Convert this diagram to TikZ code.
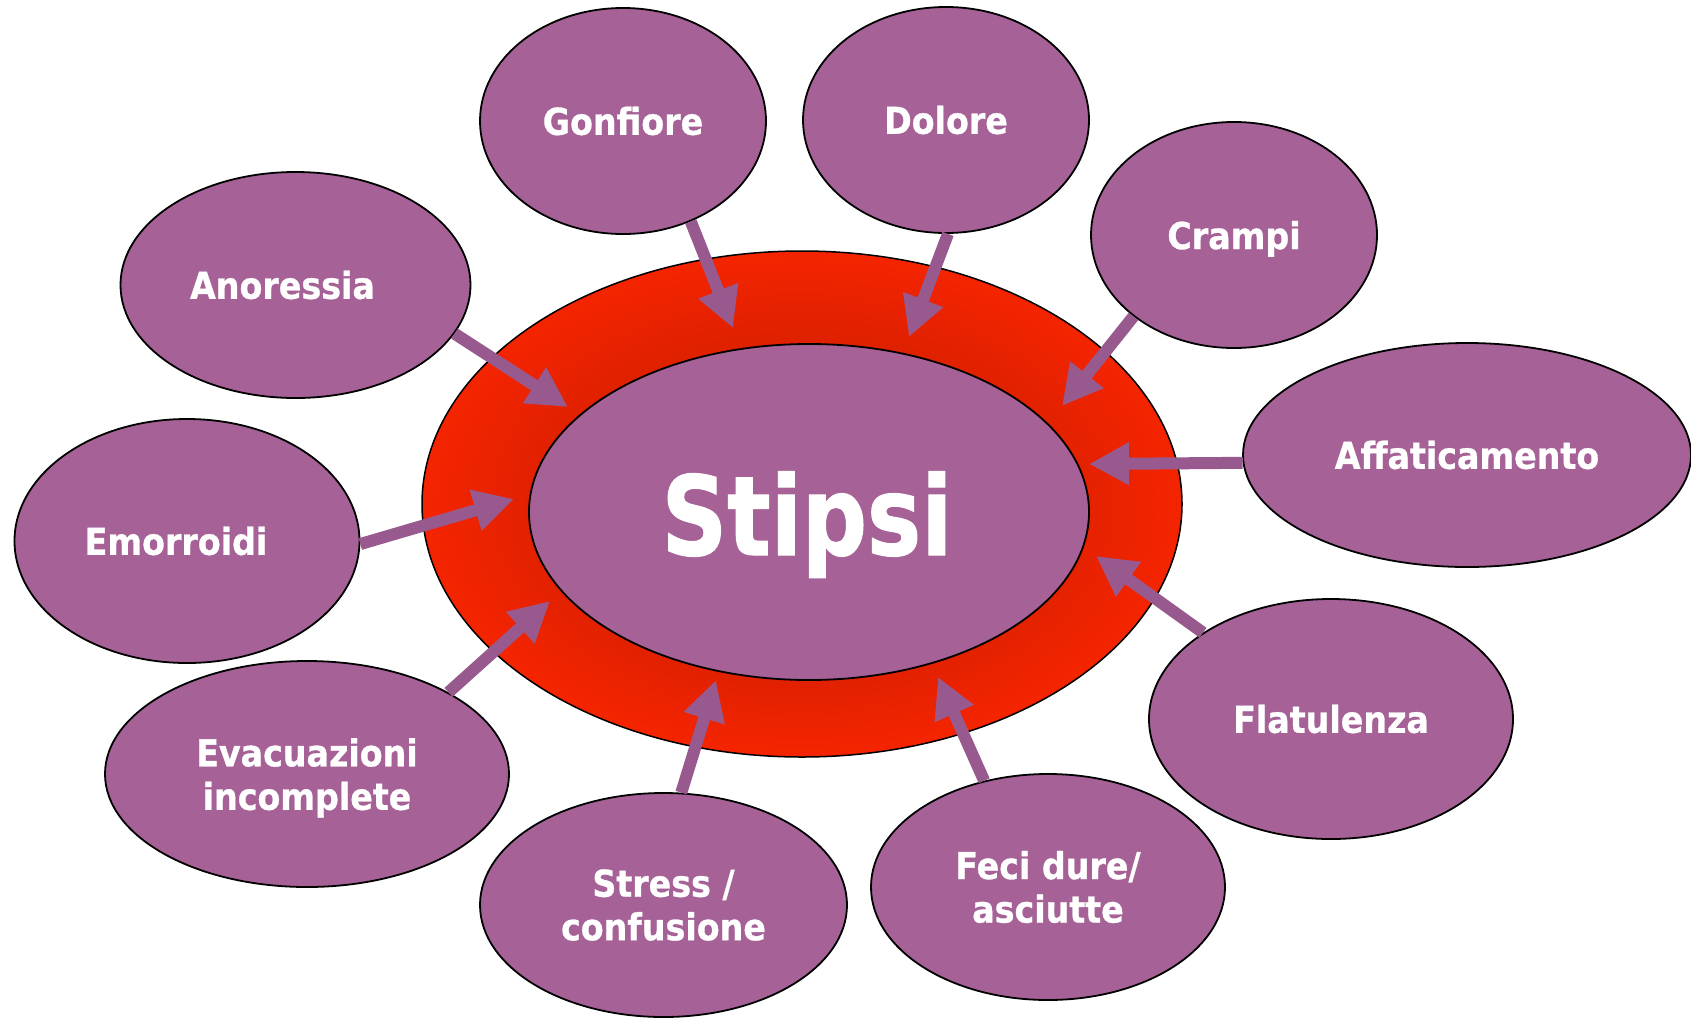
\documentclass[tikz,border=0pt]{standalone}
\usepackage{fontspec}
\usetikzlibrary{shapes.geometric,arrows.meta}
\newfontfamily\lblfont{DejaVu Sans Condensed}[FakeBold=0.8]
\newfontfamily\bigfont{DejaVu Sans Condensed}[FakeStretch=0.92,FakeBold=1]
\definecolor{purp}{RGB}{166,98,151}
\definecolor{arrowc}{RGB}{152,90,142}
\definecolor{ringbright}{RGB}{245,36,0}
\definecolor{ringdark}{RGB}{224,33,0}
\pgfdeclareradialshading{ringshade}{\pgfpoint{0bp}{0bp}}{color(0bp)=(ringdark); color(17bp)=(ringdark); color(25bp)=(ringbright); color(50bp)=(ringbright)}
\begin{document}
\begin{tikzpicture}[x=1pt,y=-1pt,
  sat/.style={ellipse, draw=black, line width=1.8pt, fill=purp, inner sep=0pt, text=white,
    font=\lblfont\bfseries\fontsize{37}{43.5}\selectfont, align=center},
  arr/.style={draw=arrowc, line width=12pt, -{Triangle[length=40pt,width=40pt]}}]
\useasboundingbox (0,0) rectangle (1691,1018);
\fill[white] (0,0) rectangle (1691,1018);

\node[ellipse, draw=black, line width=1.5pt, shade, shading=ringshade,
  minimum width=760pt, minimum height=506pt, inner sep=0pt] (ring) at (802,504) {};
\node[ellipse, draw=black, line width=1.8pt, fill=purp,
  minimum width=560pt, minimum height=336pt, inner sep=0pt] (stipsi) at (809,512) {};
\node[text=white, font=\bigfont\bfseries\fontsize{110}{120}\selectfont, anchor=base, inner sep=0pt]
  (stipsitxt) at (807,555) {Stipsi};

\node[sat, minimum width=350pt, minimum height=226pt] (anor) at (295.5,285) {\kern-26pt Anoressia};
\node[sat, minimum width=345pt, minimum height=244pt] (emor) at (187,541) {\kern-22pt Emorroidi};
\node[sat, minimum width=404pt, minimum height=226pt, text depth=0pt] (evac) at (307,774) {Evacuazioni\\incomplete};
\node[sat, minimum width=367pt, minimum height=224pt] (stress) at (663.5,905) {Stress /\\confusione};
\node[sat, minimum width=354pt, minimum height=226pt] (feci) at (1048,887) {Feci dure/\\asciutte};
\node[sat, minimum width=364pt, minimum height=240pt] (flat) at (1331,719) {Flatulenza};
\node[sat, minimum width=448pt, minimum height=224pt] (affa) at (1467,455) {Affaticamento};
\node[sat, minimum width=286pt, minimum height=226pt, text depth=0pt] (cramp) at (1234,235) {Crampi};
\node[sat, minimum width=286pt, minimum height=226pt] (dol) at (946,120) {Dolore};
\node[sat, minimum width=286pt, minimum height=226pt] (gonf) at (623,121) {Gonfiore};

\coordinate (t1) at (568,407);
\coordinate (t2) at (514,499);
\coordinate (t3) at (550,601);
\coordinate (t4) at (716,680);
\coordinate (t5) at (938,677);
\coordinate (t6) at (1096,556);
\coordinate (t7) at (1089,464);
\coordinate (t8) at (1062,406);
\coordinate (t9) at (909,337);
\coordinate (t10) at (733,328);

\draw[arr] (anor.-17) -- (t1);
\draw[arr] (emor.-1) -- (t2);
\draw[arr] (evac.30) -- (t3);
\draw[arr] (stress.81) -- (t4);
\draw[arr] (feci.121) -- (t5);
\draw[arr] (flat.146) -- (t6);
\draw[arr] (affa.182) -- (t7);
\draw[arr] (cramp.219) -- (t8);
\draw[arr] (dol.-89) -- (t9);
\draw[arr] (gonf.-56) -- (t10);
\end{tikzpicture}
\end{document}
